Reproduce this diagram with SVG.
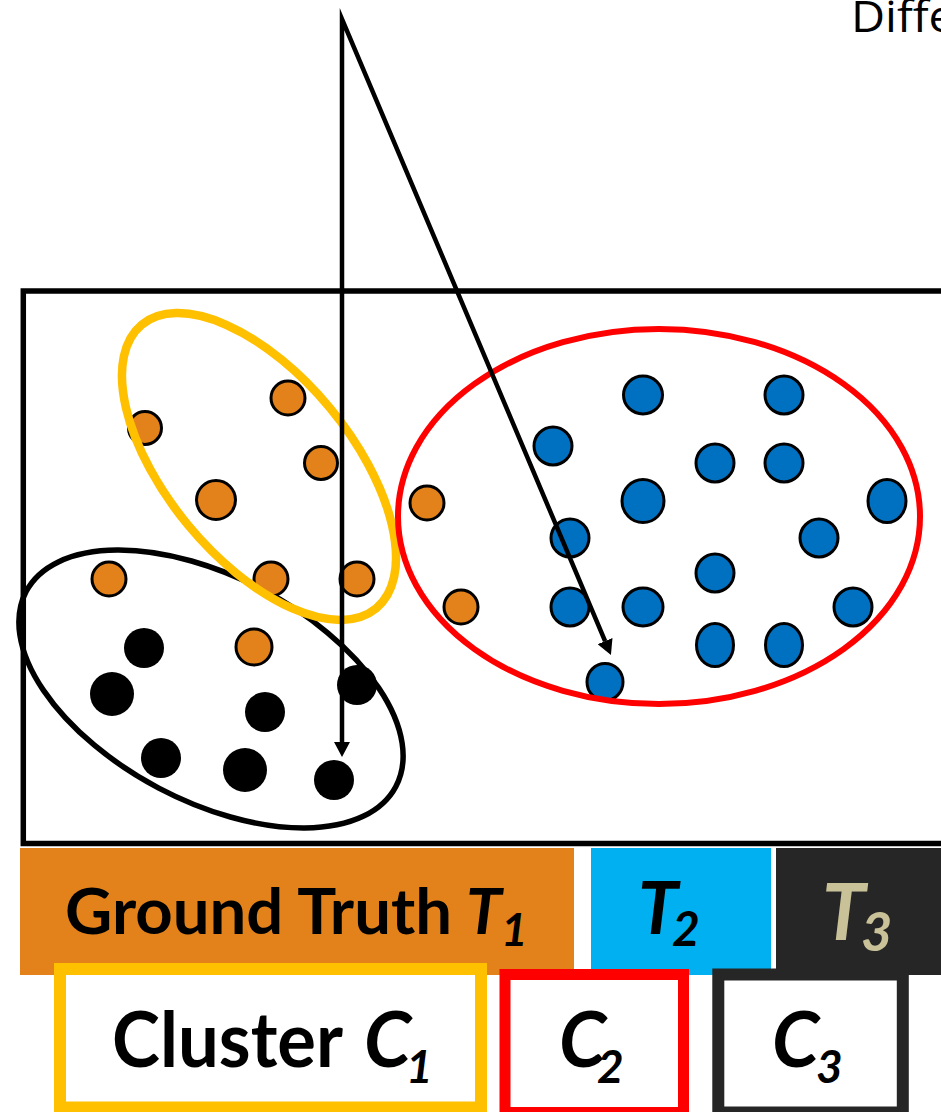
<svg xmlns="http://www.w3.org/2000/svg" width="941" height="1112" viewBox="0 0 941 1112">
  <defs>
    <style>
      .o { fill: #E3821A; stroke: #000; stroke-width: 3; }
      .b { fill: #0070C0; stroke: #000; stroke-width: 3; }
      .k { fill: #000; }
      .lbl { font-family: Lato, "Liberation Sans", sans-serif; font-weight: bold; fill: #000; }
      .it { font-style: italic; }
    </style>
    <marker id="ah" viewBox="0 0 15 16" refX="0" refY="8" markerWidth="15" markerHeight="16" markerUnits="userSpaceOnUse" orient="auto-start-reverse">
      <path d="M0,0 L15,8 L0,16 z" fill="#000"/>
    </marker>
  </defs>
  <rect width="941" height="1112" fill="#fff"/>

  <text x="851" y="32" font-family="'Open Sans', 'Liberation Sans', sans-serif" font-size="44" fill="#000" textLength="104" lengthAdjust="spacingAndGlyphs">Diffe</text>

  <g id="frame">
    <rect x="23.3" y="291" width="960" height="552.5" fill="#fff" stroke="#000" stroke-width="5.5"/>
  </g>

  <g id="cluster-c3-ellipse">
    <ellipse cx="211" cy="689" rx="209" ry="112" transform="rotate(27.8 211 689)" fill="none" stroke="#000" stroke-width="5.5"/>
  </g>

  <g id="black-points">
    <circle class="k" cx="144" cy="648" r="20"/>
    <circle class="k" cx="112" cy="694" r="22"/>
    <circle class="k" cx="265" cy="712" r="20"/>
    <circle class="k" cx="357" cy="685" r="20"/>
    <circle class="k" cx="161" cy="758" r="20"/>
    <circle class="k" cx="245" cy="770" r="22"/>
    <circle class="k" cx="334" cy="780" r="20"/>
  </g>

  <g id="orange-points">
    <circle class="o" cx="288" cy="398" r="17"/>
    <circle class="o" cx="145" cy="428" r="16.5"/>
    <circle class="o" cx="321" cy="463" r="16.5"/>
    <circle class="o" cx="216" cy="500" r="19.5"/>
    <circle class="o" cx="109" cy="579" r="17"/>
    <circle class="o" cx="271" cy="579" r="17"/>
    <circle class="o" cx="357" cy="579" r="17"/>
    <circle class="o" cx="254" cy="647" r="18"/>
    <circle class="o" cx="427" cy="503" r="17"/>
    <circle class="o" cx="461" cy="607" r="17"/>
  </g>

  <g id="blue-points">
    <ellipse class="b" cx="643" cy="395" rx="19.5" ry="19"/>
    <ellipse class="b" cx="784" cy="395" rx="19" ry="19"/>
    <ellipse class="b" cx="553" cy="446" rx="19" ry="19"/>
    <ellipse class="b" cx="715" cy="463" rx="19" ry="19"/>
    <ellipse class="b" cx="784" cy="463" rx="19" ry="19"/>
    <ellipse class="b" cx="643" cy="501" rx="21" ry="21.5"/>
    <ellipse class="b" cx="887" cy="501" rx="19" ry="21.5"/>
    <ellipse class="b" cx="570" cy="538" rx="19" ry="19"/>
    <ellipse class="b" cx="819" cy="538" rx="19" ry="19"/>
    <ellipse class="b" cx="715" cy="573" rx="19" ry="19"/>
    <ellipse class="b" cx="570" cy="607" rx="19" ry="19"/>
    <ellipse class="b" cx="643" cy="607" rx="20" ry="19"/>
    <ellipse class="b" cx="853" cy="607" rx="19" ry="19"/>
    <ellipse class="b" cx="715" cy="645" rx="18.5" ry="21.5"/>
    <ellipse class="b" cx="784" cy="645" rx="18.5" ry="21.5"/>
    <ellipse class="b" cx="605" cy="682" rx="18" ry="18.5"/>
  </g>

  <g id="cluster-c1-ellipse">
    <ellipse cx="259" cy="466.5" rx="184" ry="92" transform="rotate(50.4 259 466.5)" fill="none" stroke="#FFC000" stroke-width="8.5"/>
  </g>

  <g id="cluster-c2-ellipse">
    <ellipse cx="659" cy="516.5" rx="261" ry="187.5" fill="none" stroke="#FF0000" stroke-width="6"/>
  </g>

  <g id="connectors">
    <path d="M605.1,641.1 L342,19 L342,742" fill="none" stroke="#000" stroke-width="4.5" stroke-linejoin="miter" stroke-miterlimit="20" marker-start="url(#ah)" marker-end="url(#ah)"/>
  </g>

  <g id="truth-t1">
    <rect x="20" y="848" width="554" height="127" fill="#E3821A"/>
    <text class="lbl" x="65" y="934" font-size="64" textLength="387" lengthAdjust="spacingAndGlyphs">Ground Truth</text>
    <text class="lbl it" x="466" y="934" font-size="64">T<tspan x="501" y="946" font-size="46">1</tspan></text>
  </g>

  <g id="truth-t2">
    <rect x="591" y="848" width="180" height="127" fill="#00B0F0"/>
    <text class="lbl it" x="638" y="934" font-size="72">T<tspan x="672" y="946" font-size="48">2</tspan></text>
  </g>

  <g id="truth-t3">
    <rect x="776" y="848" width="170" height="127" fill="#262626"/>
    <text class="lbl it" x="822" y="940" font-size="78" style="fill:#C9C298">T<tspan x="861" y="951" font-size="54">3</tspan></text>
  </g>

  <g id="cluster-c1">
    <rect x="60" y="969" width="421" height="138.5" fill="#fff" stroke="#FFC000" stroke-width="12"/>
    <text class="lbl" x="112" y="1067" font-size="76" textLength="231" lengthAdjust="spacingAndGlyphs">Cluster</text>
    <text class="lbl it" x="364" y="1067" font-size="76">C<tspan x="406" y="1083" font-size="46">1</tspan></text>
  </g>

  <g id="cluster-c2">
    <rect x="505" y="974.5" width="178.5" height="138" fill="#fff" stroke="#FF0000" stroke-width="11"/>
    <text class="lbl it" x="559" y="1067" font-size="76">C<tspan x="597" y="1083" font-size="46">2</tspan></text>
  </g>

  <g id="cluster-c3">
    <rect x="718.3" y="974.5" width="184.5" height="138" fill="#fff" stroke="#262626" stroke-width="12"/>
    <text class="lbl it" x="772" y="1067" font-size="76">C<tspan x="816" y="1083" font-size="46">3</tspan></text>
  </g>
</svg>
